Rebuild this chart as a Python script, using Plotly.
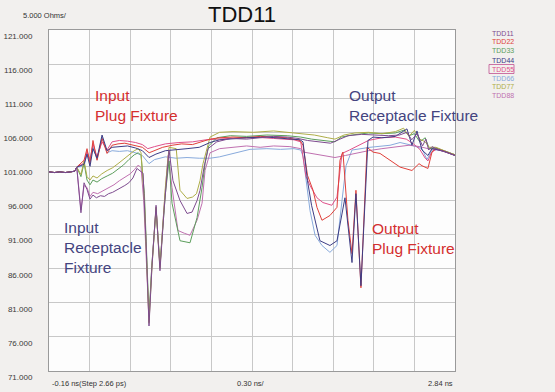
import plotly.graph_objects as go

# ---- data (time in ns, impedance in Ohms) ----
base_t = [-0.16, -0.12, -0.08, -0.04, 0.00, 0.03, 0.045]
base_v = [100.2, 100.1, 100.2, 100.1, 100.2, 100.3, 100.9]

tdd11_t = base_t + [0.076, 0.099, 0.121, 0.143, 0.165, 0.19, 0.22, 0.25, 0.28, 0.31, 0.34, 0.37, 0.40, 0.43, 0.46, 0.49, 0.51,
                    0.535, 0.557, 0.579, 0.60, 0.631, 0.645, 0.66, 0.69, 0.727, 0.756, 0.808, 0.86, 0.897, 0.934, 0.956, 0.986,
                    1.015, 1.08, 1.18, 1.30, 1.40, 1.50, 1.60, 1.68, 1.75, 1.85, 1.92, 1.99, 2.05, 2.15, 2.25, 2.35, 2.43,
                    2.485, 2.52, 2.56, 2.60, 2.625, 2.645, 2.67, 2.70, 2.74, 2.78, 2.81, 2.84]
tdd11_v = base_v + [94.2, 98.6, 97.6, 96.2, 96.8, 96.4, 96.7, 96.6, 97.0, 97.2, 97.5, 97.8, 98.2, 98.6, 99.3, 100.7, 100.4,
                    100.0, 90.0, 77.6, 86.0, 95.3, 90.5, 85.7, 94.5, 103.4, 98.9, 96.0, 94.1, 94.3, 96.0, 97.5, 100.9,
                    103.6, 104.6, 105.1, 105.0, 105.2, 105.4, 105.3, 105.1, 104.8, 104.6, 104.4, 105.0, 105.5, 105.7, 105.6, 105.5, 105.6,
                    106.0, 104.9, 105.8, 104.0, 105.0, 103.4, 103.9, 103.6, 103.3, 103.1, 102.8, 102.6]

tdd22_t = base_t + [0.099, 0.121, 0.143, 0.165, 0.195, 0.232, 0.269, 0.306, 0.35, 0.40, 0.45, 0.50, 0.53, 0.58, 0.62, 0.68,
                    0.75, 0.82, 0.90, 0.97, 1.03, 1.10, 1.20, 1.30, 1.40, 1.50, 1.60, 1.695, 1.717, 1.75, 1.791, 1.82, 1.857,
                    1.916, 1.968, 1.99, 2.012, 2.049, 2.079, 2.108, 2.145, 2.19, 2.234, 2.286, 2.36, 2.434, 2.522, 2.574,
                    2.596, 2.64, 2.67, 2.692, 2.75, 2.80, 2.84]
tdd22_v = base_v + [101.9, 103.6, 101.4, 104.8, 101.9, 105.1, 102.9, 104.1, 104.3, 104.4, 104.2, 104.0, 103.8, 103.0, 103.3, 103.8,
                    104.1, 104.3, 104.2, 104.6, 105.0, 105.2, 105.3, 105.2, 105.4, 105.3, 105.2, 104.8, 104.1, 99.7, 97.5, 95.0, 93.1,
                    93.8, 95.0, 101.9, 103.1, 93.1, 88.2, 97.5, 83.2, 103.8, 103.1, 102.9, 101.9, 100.9, 100.4, 101.4,
                    101.1, 100.7, 103.1, 103.6, 103.3, 102.9, 102.6]

tdd33_t = base_t + [0.076, 0.099, 0.121, 0.143, 0.165, 0.195, 0.23, 0.27, 0.31, 0.35, 0.39, 0.43, 0.47, 0.50, 0.52, 0.545,
                    0.579, 0.60, 0.631, 0.66, 0.70, 0.727, 0.749, 0.808, 0.882, 0.934, 0.971, 0.993, 1.02, 1.08, 1.18, 1.30,
                    1.45, 1.60, 1.70, 1.78, 1.88, 1.953, 2.00, 2.08, 2.20, 2.30, 2.40, 2.46, 2.50, 2.54, 2.58, 2.62, 2.65,
                    2.70, 2.76, 2.84]
tdd33_v = base_v + [99.5, 101.5, 99.0, 98.3, 99.0, 98.7, 99.2, 99.6, 100.0, 100.6, 101.2, 102.0, 102.7, 103.0, 102.6, 97.0,
                    79.0, 86.5, 94.8, 86.5, 97.0, 101.8, 95.6, 90.1, 89.8, 93.5, 97.9, 101.4, 104.0, 105.2, 105.5, 105.4,
                    105.6, 105.5, 105.3, 105.0, 104.8, 104.6, 105.3, 105.6, 105.9, 105.8, 105.9, 106.3, 105.5, 105.8, 104.6, 105.2, 103.6,
                    103.7, 103.3, 102.7]

tdd44_t = base_t + [0.099, 0.121, 0.143, 0.165, 0.195, 0.232, 0.269, 0.306, 0.36, 0.42, 0.48, 0.53, 0.579, 0.63, 0.70, 0.78,
                    0.86, 0.95, 1.03, 1.10, 1.20, 1.30, 1.45, 1.60, 1.695, 1.717, 1.75, 1.78, 1.842, 1.916, 1.968, 2.027,
                    2.079, 2.108, 2.145, 2.197, 2.234, 2.30, 2.40, 2.485, 2.522, 2.559, 2.596, 2.64, 2.67, 2.70, 2.76, 2.84]
tdd44_v = base_v + [101.3, 102.8, 101.0, 103.6, 102.2, 105.6, 103.3, 103.8, 103.9, 104.0, 103.7, 103.3, 102.3, 102.8, 103.3, 103.5,
                    103.6, 103.8, 104.5, 104.9, 105.1, 105.2, 105.3, 105.1, 104.9, 104.6, 98.9, 95.3, 90.1, 89.4, 90.1, 96.4,
                    86.9, 97.0, 83.5, 104.8, 105.3, 105.2, 105.4, 106.5, 104.1, 106.2, 103.4, 102.6, 103.6, 103.5, 103.2, 102.6]

tdd55_t = base_t + [0.099, 0.121, 0.143, 0.165, 0.195, 0.232, 0.269, 0.306, 0.36, 0.42, 0.48, 0.53, 0.57, 0.62, 0.70, 0.80,
                    0.90, 1.00, 1.10, 1.20, 1.35, 1.50, 1.65, 1.70, 1.739, 1.769, 1.82, 1.864, 1.93, 1.968, 2.005, 2.06, 2.12,
                    2.20, 2.30, 2.40, 2.48, 2.54, 2.58, 2.62, 2.64, 2.665, 2.70, 2.77, 2.84]
tdd55_v = base_v + [101.5, 103.2, 102.0, 104.3, 102.4, 104.6, 103.4, 104.6, 104.8, 104.7, 104.5, 104.2, 103.6, 103.9, 104.3, 104.5,
                    104.6, 104.9, 105.0, 105.2, 105.3, 105.1, 104.9, 104.6, 99.5, 98.2, 96.4, 95.7, 95.3, 96.5, 102.9, 103.4, 104.0,
                    104.8, 105.2, 105.3, 105.0, 104.2, 103.5, 102.2, 101.8, 103.0, 103.5, 103.2, 102.7]

tdd66_t = base_t + [0.099, 0.121, 0.143, 0.165, 0.195, 0.232, 0.269, 0.306, 0.36, 0.42, 0.48, 0.53, 0.579, 0.62, 0.70, 0.78,
                    0.86, 0.95, 1.03, 1.10, 1.20, 1.325, 1.45, 1.55, 1.65, 1.70, 1.717, 1.769, 1.806, 1.857, 1.916, 1.968,
                    2.005, 2.035, 2.079, 2.14, 2.212, 2.36, 2.434, 2.522, 2.596, 2.633, 2.67, 2.72, 2.78, 2.84]
tdd66_v = base_v + [101.0, 103.0, 101.7, 103.9, 102.0, 105.3, 103.0, 103.3, 103.2, 103.3, 103.0, 102.6, 101.4, 102.0, 102.4, 102.2,
                    102.3, 102.2, 102.2, 102.4, 102.9, 103.5, 103.6, 103.5, 103.6, 103.4, 102.5, 94.5, 90.9, 89.4, 88.4, 89.4,
                    96.0, 101.1, 103.4, 103.6, 103.8, 104.1, 104.5, 104.1, 103.6, 102.0, 103.4, 103.4, 103.1, 102.6]

tdd77_t = base_t + [0.076, 0.099, 0.121, 0.143, 0.165, 0.195, 0.23, 0.27, 0.31, 0.35, 0.39, 0.43, 0.47, 0.50, 0.52, 0.545,
                    0.579, 0.60, 0.631, 0.66, 0.70, 0.727, 0.78, 0.808, 0.86, 0.90, 0.93, 0.956, 0.978, 1.03, 1.10, 1.20,
                    1.35, 1.50, 1.62, 1.70, 1.80, 1.90, 1.953, 2.02, 2.10, 2.20, 2.30, 2.40, 2.46, 2.50, 2.54, 2.58, 2.62,
                    2.65, 2.70, 2.76, 2.84]
tdd77_v = base_v + [99.8, 101.8, 99.5, 99.0, 99.6, 99.3, 99.9, 100.4, 100.8, 101.4, 102.0, 102.7, 103.3, 103.6, 103.0, 96.0,
                    78.0, 86.0, 95.0, 86.0, 98.0, 103.8, 103.6, 97.5, 96.3, 96.5, 97.0, 98.9, 101.4, 105.3, 106.0, 106.1,
                    106.0, 106.2, 106.0, 105.8, 105.6, 105.2, 105.0, 105.6, 105.9, 106.0, 105.8, 106.1, 106.6, 105.4, 106.3, 105.0, 104.6,
                    103.8, 103.8, 103.3, 102.7]

tdd88_t = base_t + [0.076, 0.099, 0.121, 0.143, 0.165, 0.20, 0.24, 0.28, 0.32, 0.36, 0.40, 0.44, 0.47, 0.50, 0.52, 0.54,
                    0.579, 0.60, 0.631, 0.66, 0.69, 0.72, 0.749, 0.793, 0.84, 0.882, 0.934, 0.971, 0.993, 1.03, 1.10, 1.20,
                    1.30, 1.40, 1.50, 1.62, 1.70, 1.72, 1.80, 1.90, 1.953, 2.03, 2.10, 2.20, 2.30, 2.40, 2.50, 2.58, 2.64,
                    2.70, 2.76, 2.84]
tdd88_v = base_v + [94.6, 98.2, 97.9, 96.6, 97.2, 97.0, 97.4, 97.8, 98.3, 98.9, 99.4, 99.9, 100.5, 101.2, 100.8, 96.0,
                    78.2, 86.5, 95.0, 86.2, 95.0, 102.6, 97.9, 91.6, 91.2, 90.9, 93.1, 95.6, 100.4, 103.0, 103.6, 103.8,
                    104.0, 103.8, 104.0, 103.9, 103.6, 103.1, 102.8, 102.4, 102.3, 102.6, 102.9, 103.3, 103.6, 103.9, 104.1, 103.9, 103.6,
                    103.5, 103.2, 102.7]

series_names = ["TDD11", "TDD22", "TDD33", "TDD44", "TDD55", "TDD66", "TDD77", "TDD88"]
series_t = [tdd11_t, tdd22_t, tdd33_t, tdd44_t, tdd55_t, tdd66_t, tdd77_t, tdd88_t]
series_v = [tdd11_v, tdd22_v, tdd33_v, tdd44_v, tdd55_v, tdd66_v, tdd77_v, tdd88_v]
series_colors = ["#7d4b8f", "#e0403a", "#5c9e5c", "#3d3d85", "#e0508a", "#88aadc", "#aeae48", "#c070b0"]

y_ticks = [121, 116, 111, 106, 101, 96, 91, 86, 81, 76, 71]

# ---- figure ----
W, H = 555, 392
L, R, T, B = 49, 100, 30, 21
PW, PH = W - L - R, H - T - B


def px(x):
    return (x - L) / PW


def py(y):
    return (H - B - y) / PH


FONT = "Liberation Sans, Arial, sans-serif"

fig = go.Figure()
draw_order = [5, 4, 7, 2, 6, 1, 3, 0]
for i in draw_order:
    fig.add_trace(go.Scatter(x=series_t[i], y=series_v[i], mode="lines", name=series_names[i],
                             line=dict(color=series_colors[i], width=1.0), showlegend=False,
                             hoverinfo="skip"))

fig.update_layout(
    width=W, height=H,
    margin=dict(l=L, r=R, t=T, b=B, pad=0, autoexpand=False),
    paper_bgcolor="#f2f0ee",
    plot_bgcolor="#fdfdfd",
    font=dict(family=FONT, color="#333"),
    showlegend=False,
)
fig.update_xaxes(range=[-0.16, 2.84], tick0=-0.16, dtick=0.3, showgrid=True, gridcolor="#c8c8c8", gridwidth=1,
                 showticklabels=False, zeroline=False, showline=True, linecolor="#9a9a9a", mirror=True, ticks="",
                 automargin=False)
fig.update_yaxes(range=[71, 121], tickvals=y_ticks, tickformat=".3f", showgrid=True, gridcolor="#c8c8c8",
                 gridwidth=1, zeroline=False, showline=True, linecolor="#9a9a9a", mirror=True, ticks="",
                 tickfont=dict(size=8, color="#3a3a3a", family=FONT), ticklabelstandoff=14, ticklabelshift=6,
                 automargin=False)

ann = []
# title & unit
ann.append(dict(x=px(242), y=py(14), xref="paper", yref="paper", text="TDD11", showarrow=False,
                font=dict(size=22, color="#111", family=FONT), xanchor="center", yanchor="middle"))
ann.append(dict(x=px(21), y=py(15), xref="paper", yref="paper", text="5.000 Ohms/", showarrow=False,
                font=dict(size=7.5, color="#333", family=FONT), xanchor="left", yanchor="middle"))
# legend texts
leg_y = [33, 42, 51, 60, 69, 78, 87, 95.5]
for name, c, yy in zip(series_names, series_colors, leg_y):
    ann.append(dict(x=px(490), y=py(yy), xref="paper", yref="paper", text=name, showarrow=False,
                    font=dict(size=7, color=c, family=FONT), xanchor="left", yanchor="middle"))
# bottom labels
ann.append(dict(x=px(50), y=py(383), xref="paper", yref="paper", text="-0.16 ns(Step 2.66 ps)", showarrow=False,
                font=dict(size=7.5, color="#333", family=FONT), xanchor="left", yanchor="middle"))
ann.append(dict(x=px(251), y=py(383), xref="paper", yref="paper", text="0.30 ns/", showarrow=False,
                font=dict(size=7.5, color="#333", family=FONT), xanchor="center", yanchor="middle"))
ann.append(dict(x=px(455), y=py(383), xref="paper", yref="paper", text="2.84 ns", showarrow=False,
                font=dict(size=7.5, color="#333", family=FONT), xanchor="right", yanchor="middle"))
# in-plot labels
RED, NAVY = "#d42f2f", "#44447f"
ann.append(dict(x=0.165, y=109.9, text="Input<br>Plug Fixture", showarrow=False, align="left",
                font=dict(size=15.5, color=RED, family=FONT), xanchor="left", yanchor="middle"))
ann.append(dict(x=2.042, y=109.9, text="Output<br>Receptacle Fixture", showarrow=False, align="left",
                font=dict(size=15.5, color=NAVY, family=FONT), xanchor="left", yanchor="middle"))
ann.append(dict(x=-0.064, y=89.1, text="Input<br>Receptacle<br>Fixture", showarrow=False, align="left",
                font=dict(size=15.5, color=NAVY, family=FONT), xanchor="left", yanchor="middle"))
ann.append(dict(x=2.212, y=90.5, text="Output<br>Plug Fixture", showarrow=False, align="left",
                font=dict(size=15.5, color=RED, family=FONT), xanchor="left", yanchor="middle"))
fig.update_layout(annotations=ann)

# highlight box around the TDD55 legend entry
fig.add_shape(type="rect", xref="paper", yref="paper", x0=px(489), x1=px(514), y0=py(73.5), y1=py(64.5),
              line=dict(color="#c05090", width=0.8))

fig.write_html("out.html", config={"displayModeBar": False},
               post_script="document.body.style.margin='0';document.body.style.padding='0';"
                           "document.body.style.overflow='hidden';")
